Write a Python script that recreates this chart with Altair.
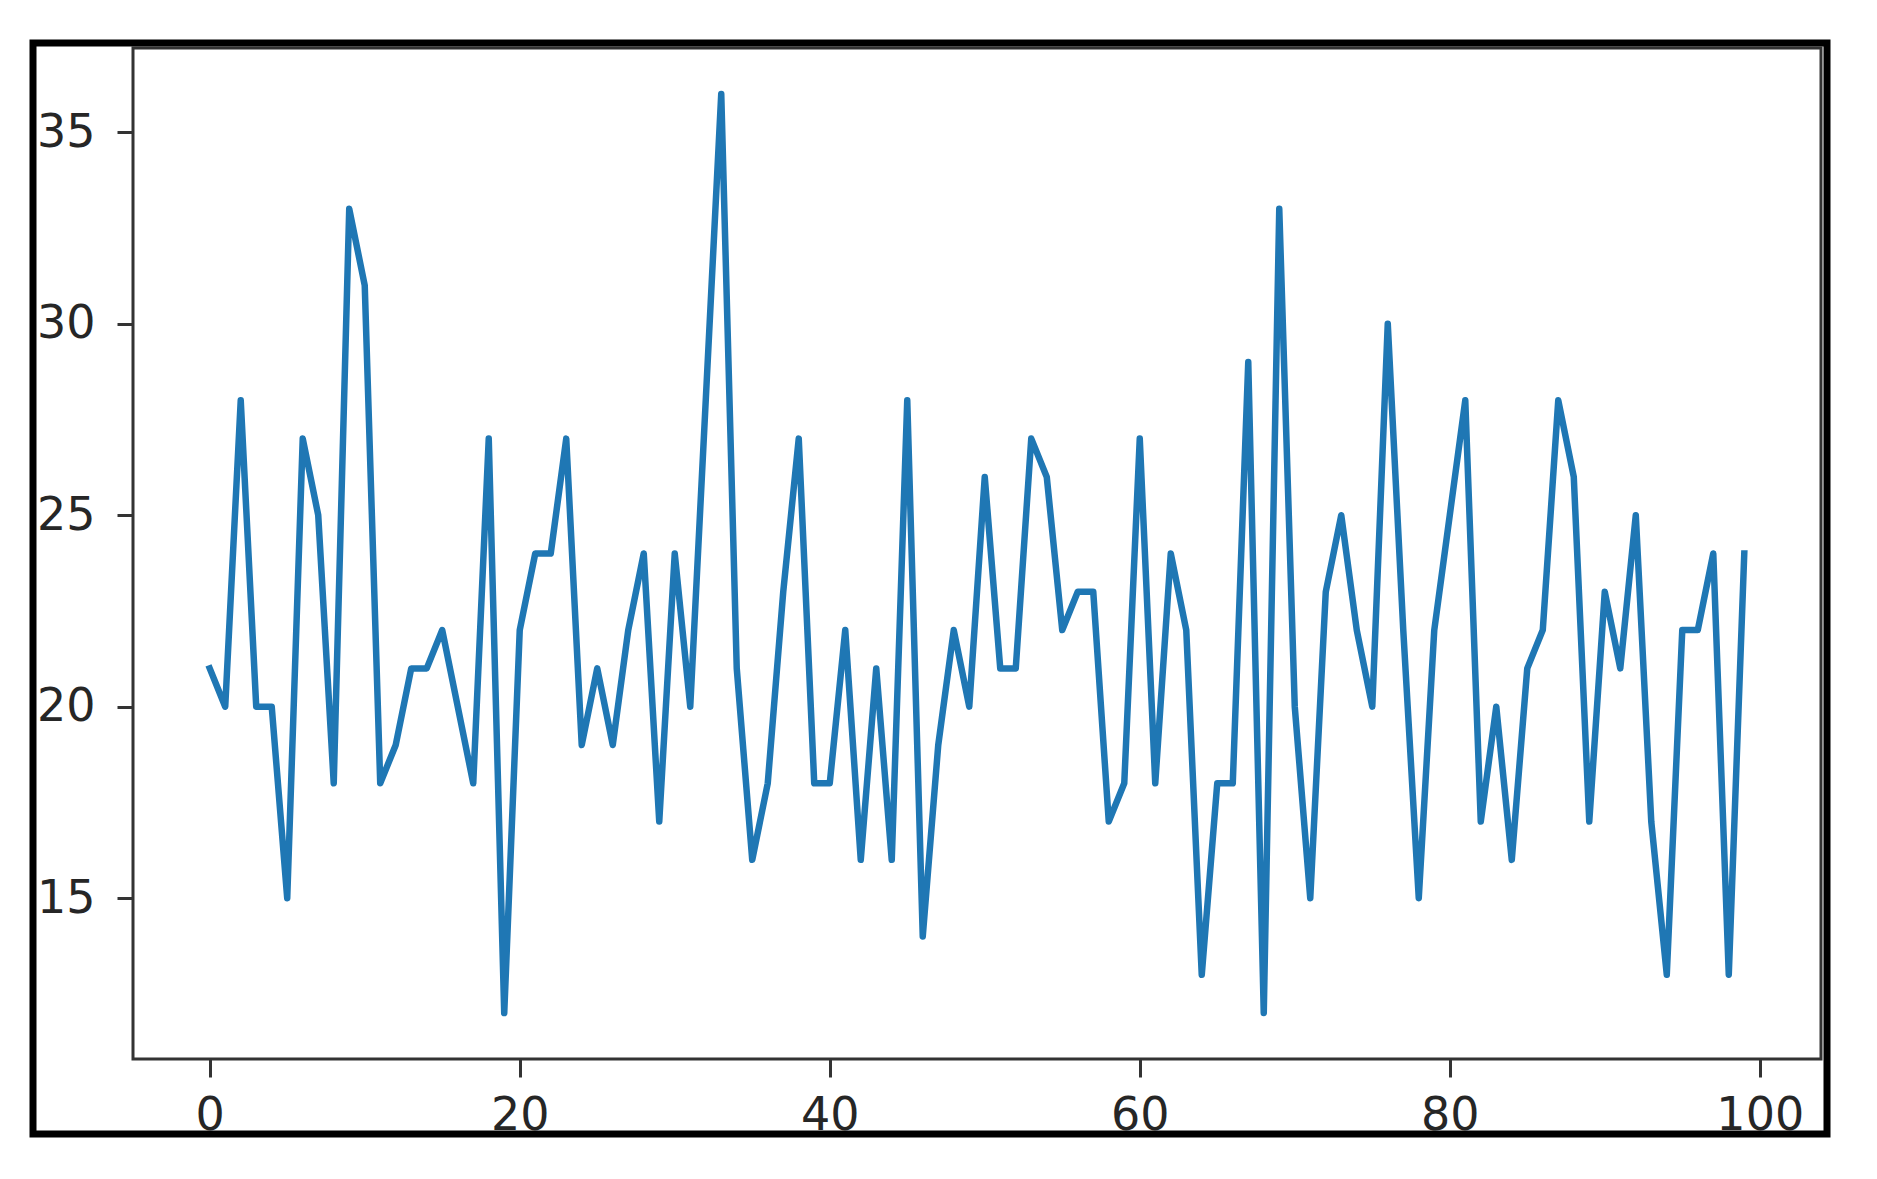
import altair as alt
import pandas as pd

x_values = list(range(100))
y_values = [21, 20, 28, 20, 20, 15, 27, 25, 18, 33,
            31, 18, 19, 21, 21, 22, 20, 18, 27, 12,
            22, 24, 24, 27, 19, 21, 19, 22, 24, 17,
            24, 20, 28, 36, 21, 16, 18, 23, 27, 18,
            18, 22, 16, 21, 16, 28, 14, 19, 22, 20,
            26, 21, 21, 27, 26, 22, 23, 23, 17, 18,
            27, 18, 24, 22, 13, 18, 18, 29, 12, 33,
            20, 15, 23, 25, 22, 20, 30, 22, 15, 22,
            25, 28, 17, 20, 16, 21, 22, 28, 26, 17,
            23, 21, 25, 17, 13, 22, 22, 24, 13, 24]
x_ticks = [0, 20, 40, 60, 80, 100]
y_ticks = [15, 20, 25, 30, 35]

df = pd.DataFrame({"x": x_values, "y": y_values})

W, H = 1688, 1011

line = alt.Chart(df).mark_line(
    color="#1f77b4", strokeWidth=6.5, strokeJoin="round", strokeCap="square"
).encode(
    x=alt.X("x:Q",
            scale=alt.Scale(domain=[-4.95, 103.95], nice=False, zero=False),
            axis=alt.Axis(values=x_ticks, title=None, grid=False, domain=False,
                          tickSize=18, tickWidth=3, tickColor="#333333",
                          labelFontSize=46, labelFont="DejaVu Sans", labelColor="#262626",
                          labelPadding=16, labelFlush=False, labelOverlap=False)),
    y=alt.Y("y:Q",
            scale=alt.Scale(domain=[10.8, 37.2], nice=False, zero=False),
            axis=alt.Axis(values=y_ticks, title=None, grid=False, domain=False,
                          tickSize=16, tickWidth=3, tickColor="#333333",
                          labelFontSize=46, labelFont="DejaVu Sans", labelColor="#262626",
                          labelPadding=22, labelFlush=False, labelOverlap=False)),
)

frame = alt.Chart(pd.DataFrame({"k": [0]})).mark_rect(
    filled=False, fillOpacity=0, stroke="black", strokeWidth=7
).encode(
    x=alt.value(-100), x2=alt.value(W + 6),
    y=alt.value(-5), y2=alt.value(H + 75),
)

chart = alt.layer(line, frame).properties(
    width=W, height=H,
    padding={"left": 125, "top": 40, "right": 15, "bottom": 95},
    autosize=alt.AutoSizeParams(type="none"),
).configure_view(stroke="#333333", strokeWidth=3)

chart.save("out.html", embed_options={"renderer": "svg", "actions": False})
